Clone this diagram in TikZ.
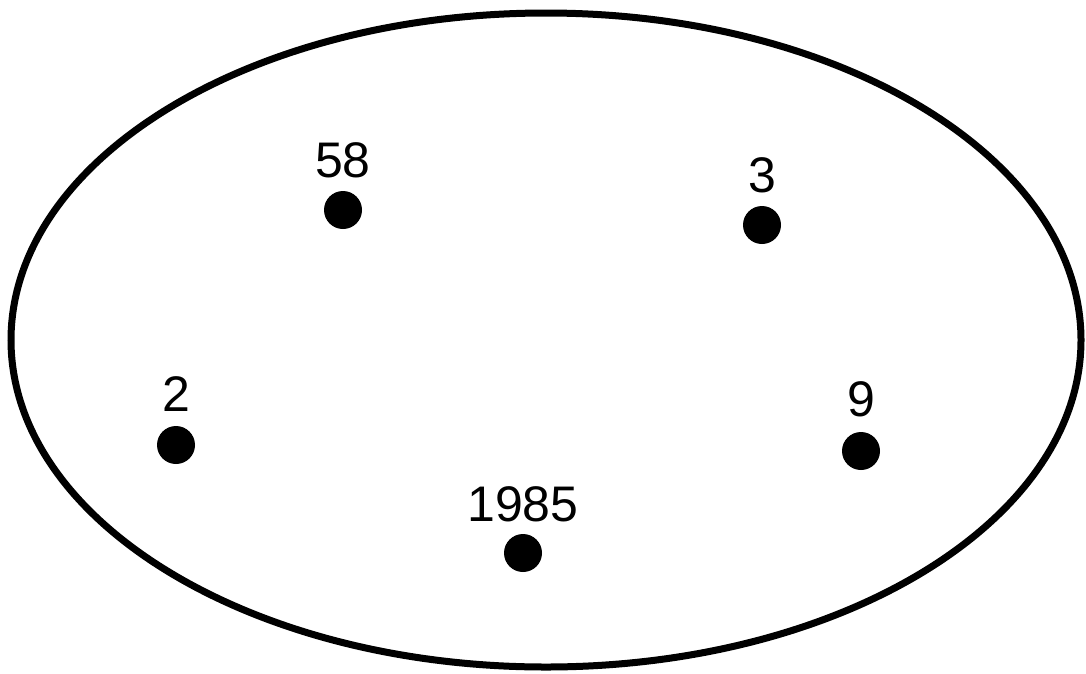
\documentclass[tikz,border=0pt]{standalone}
\usepackage{fontspec}
\setmainfont{Liberation Sans}
\begin{document}
\begin{tikzpicture}[x=1pt,y=-1pt,
  dotnode/.style={circle,fill=black,inner sep=0pt,minimum size=38pt},
  lbl/.style={anchor=base,inner sep=0pt,font=\fontsize{50}{50}\selectfont}]
\useasboundingbox (0,0) rectangle (1086,673);
\draw[line width=7pt] (546,340) ellipse [x radius=535, y radius=327];
\node[dotnode] (d58) at (343,210) {};
\node[dotnode] (d3) at (762,225) {};
\node[dotnode] (d2) at (176,445) {};
\node[dotnode] (d9) at (861,451) {};
\node[dotnode] (d1985) at (523,553) {};
\node[lbl] (t58) at (343,177) {58};
\node[lbl] (t3) at (762,192) {3};
\node[lbl] (t2) at (176,411) {2};
\node[lbl] (t9) at (861,416) {9};
\node[lbl] (t1985) at (523,521) {1985};
\end{tikzpicture}
\end{document}
